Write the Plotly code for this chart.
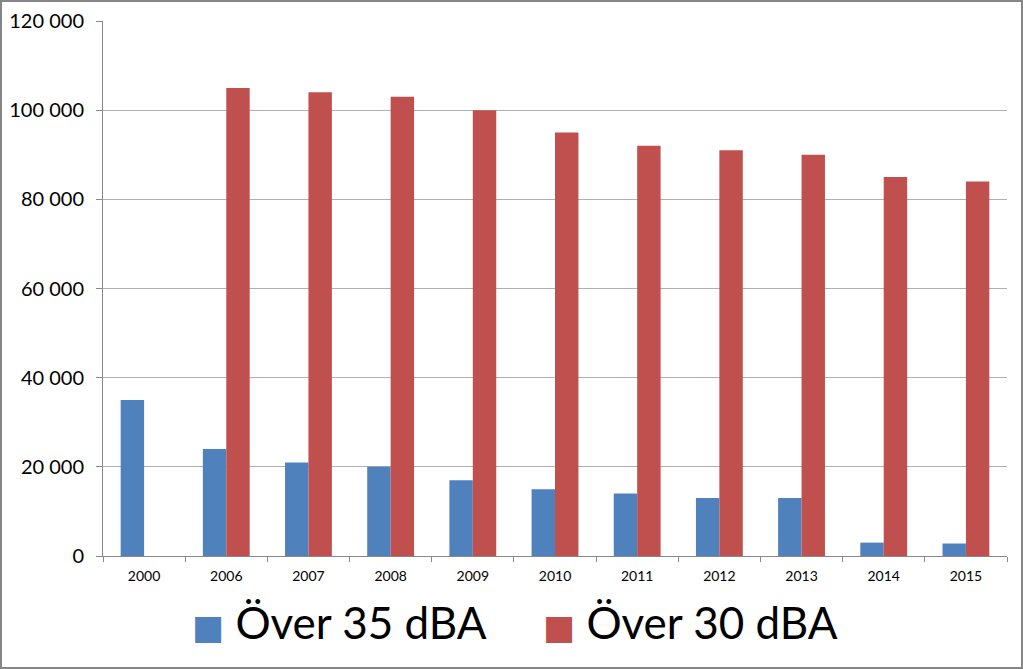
import plotly.graph_objects as go

years = ["2000", "2006", "2007", "2008", "2009", "2010", "2011", "2012", "2013", "2014", "2015"]
over35 = [35000, 24000, 21000, 20000, 17000, 15000, 14000, 13000, 13000, 3000, 2800]
over30 = [None, 105000, 104000, 103000, 100000, 95000, 92000, 91000, 90000, 85000, 84000]
ytickvals = [0, 20000, 40000, 60000, 80000, 100000, 120000]
yticktext = ["0", "20 000", "40 000", "60 000", "80 000", "100 000", "120 000"]
names = ["Över 35 dBA", "Över 30 dBA"]
colors = ["#4F81BD", "#C0504D"]

W, H = 1023, 669
L, R, T, B = 103, 16, 21, 113
pw, ph = W - L - R, H - T - B

fig = go.Figure()
fig.add_trace(go.Bar(x=years, y=over35, name=names[0], marker_color=colors[0],
                     marker_line_width=0, showlegend=False))
fig.add_trace(go.Bar(x=years, y=over30, name=names[1], marker_color=colors[1],
                     marker_line_width=0, showlegend=False))
for n, c in zip(names, colors):
    label = f'<span style="color:{c};font-family:DejaVu Sans;font-size:34px">■</span> {n}'
    fig.add_trace(go.Scatter(x=[None], y=[None], mode="markers", name=label,
                             marker=dict(symbol="square", size=1, color="rgba(0,0,0,0)")))

# outer border in paper coordinates
x0 = -L / pw
x1 = (W - L) / pw
y0 = -B / ph
y1 = (H - B) / ph
fig.add_shape(type="rect", xref="paper", yref="paper",
              x0=x0 + 1 / pw, x1=x1 - 1 / pw, y0=y0 + 1 / ph, y1=y1 - 1 / ph,
              line=dict(color="#868686", width=2), layer="above")

fig.update_layout(
    width=W, height=H,
    margin=dict(l=L, r=R, t=T, b=B, autoexpand=False),
    paper_bgcolor="white", plot_bgcolor="white",
    barmode="group", bargap=0.43, bargroupgap=0,
    font=dict(family="Lato, 'Open Sans', sans-serif", color="black"),
    xaxis=dict(type="category", showgrid=False, showline=True, linecolor="#898989",
               linewidth=1, ticks="outside", tickson="boundaries", ticklen=5,
               tickcolor="#898989", tickfont=dict(size=14), ticklabelstandoff=7,
               automargin=False, fixedrange=True),
    yaxis=dict(range=[0, 120000], tickvals=ytickvals, ticktext=yticktext,
               showgrid=True, gridcolor="#B0B0B0", gridwidth=1,
               showline=True, linecolor="#898989", linewidth=1,
               ticks="outside", ticklen=6, tickcolor="#898989",
               tickfont=dict(size=20), ticklabelstandoff=8, zeroline=False,
               automargin=False, fixedrange=True),
    legend=dict(orientation="h", x=(196 - 44 - L) / pw, xanchor="left",
                y=(T + ph - 622) / ph, yanchor="middle",
                font=dict(size=44), itemwidth=30, tracegroupgap=0,
                entrywidth=306, entrywidthmode="pixels",
                bgcolor="rgba(0,0,0,0)"),
    showlegend=True,
)

fig.write_html("out.html")
